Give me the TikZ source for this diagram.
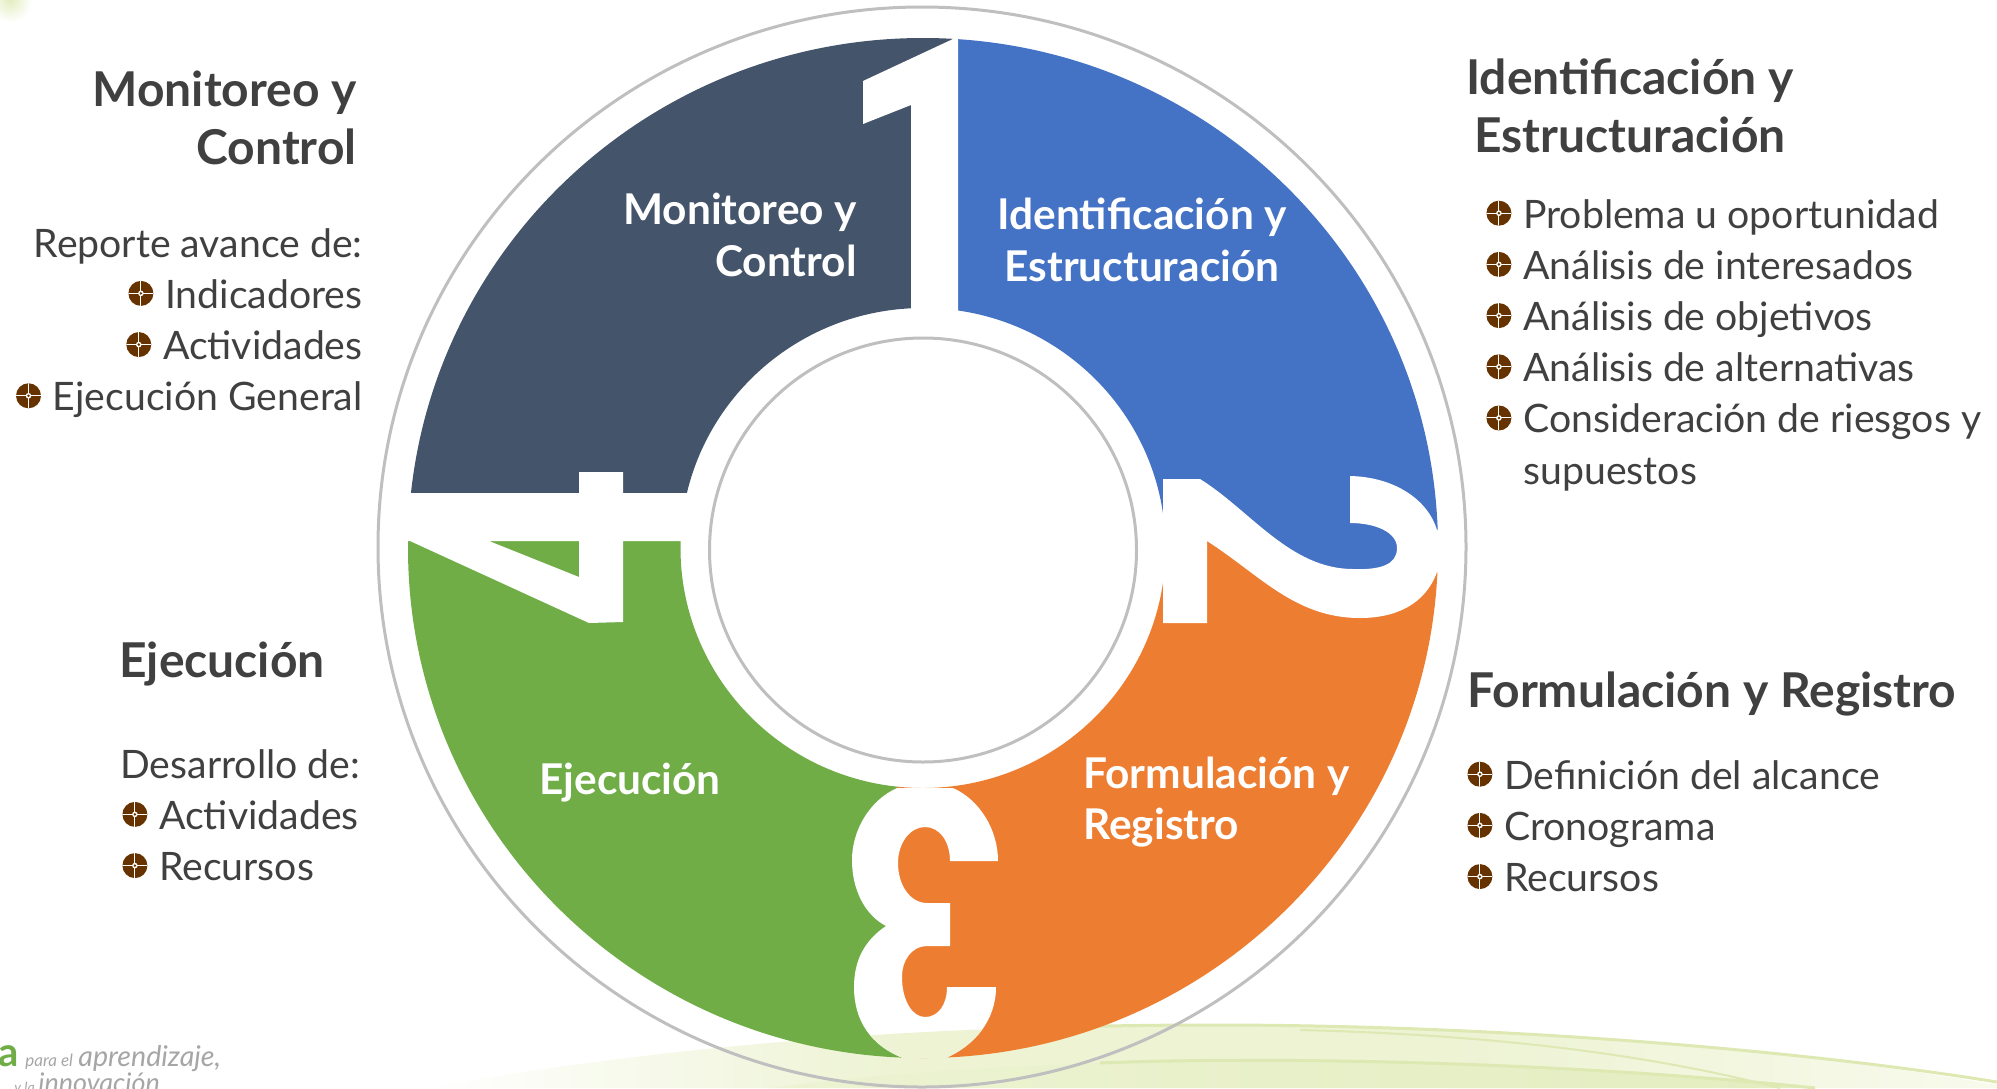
\documentclass[tikz,border=0pt]{standalone}
\usepackage{fontspec}
\setmainfont{Lato}
\definecolor{CD}{HTML}{44546A}
\definecolor{CB}{HTML}{4472C4}
\definecolor{CO}{HTML}{ED7D31}
\definecolor{CG}{HTML}{70AD47}
\definecolor{CT}{HTML}{404040}
\definecolor{CM}{HTML}{663300}
\definecolor{CL}{HTML}{BFBFBF}
\definecolor{SW1}{HTML}{EDF3D3}
\definecolor{SW2}{HTML}{E3EDBF}
\definecolor{SW3}{HTML}{DDE8B2}
\definecolor{SW4}{HTML}{F8FAEC}
\tikzset{
  TXT/.style = {text=CT, inner sep=0pt, font=\fontsize{19.6}{25.6}\selectfont},
   HD/.style = {text=CT, inner sep=0pt, font=\fontsize{24}{29}\selectfont\bfseries},
   IN/.style = {text=white, inner sep=0pt, font=\fontsize{21.2}{25.7}\selectfont\bfseries},
   LG/.style = {anchor=base west, inner sep=0pt, text=gray!70},
  BUL/.style = {circle, fill=CM, minimum size=12.5pt, inner sep=0pt,
                path picture={\draw[white, line width=.5pt]
                    (path picture bounding box.north) -- (path picture bounding box.south)
                    (path picture bounding box.west) -- (path picture bounding box.east);
                    \fill[white] (path picture bounding box.center) circle (1.4pt);
                    \fill[CM] (path picture bounding box.center) circle (.7pt);}},
}
\newcommand{\Bul}{\tikz[baseline=-.75ex]\node[BUL]{};\hspace{.3em}}
% ring, cut by the clip of each sector
\newcommand{\ringpath}{(923,548) ellipse [x radius=515, y radius=510]
                       (923,548) ellipse [x radius=242.5, y radius=240]}
% digit three is a hole: the background stays visible in it
\newcommand{\threepath}{(897,788) .. controls (870,800) and (852,830) .. (852,860)
   .. controls (852,890) and (865,915) .. (886,926)
   .. controls (865,940) and (854,960) .. (854,987)
   .. controls (854,1020) and (870,1045) .. (903,1058) -- (946,1058)
   .. controls (975,1045) and (996,1020) .. (996,987) -- (947,987)
   .. controls (947,1005) and (938,1017) .. (925,1017)
   .. controls (912,1017) and (902,1000) .. (902,977)
   .. controls (902,960) and (912,946) .. (927,946) -- (950,946) -- (950,903) -- (927,903)
   .. controls (910,903) and (898,885) .. (898,863)
   .. controls (898,843) and (910,827) .. (925,827)
   .. controls (940,827) and (950,842) .. (950,861) -- (998,861)
   .. controls (998,830) and (980,800) .. (953,788) -- cycle}
\newcommand{\swoosh}{%
  \begin{scope}
  \clip (426,1088) .. controls (700,1040) and (950,1025) .. (1214,1025)
    .. controls (1500,1025) and (1800,1050) .. (1997,1085) -- (1997,1088) -- cycle;
  \shade[left color=white, right color=SW1] (426,1000) rectangle (900,1088);
  \fill[SW1] (899,1000) rectangle (1450,1088);
  \shade[left color=SW1, right color=SW4] (1449,1000) rectangle (1997,1088);
  \end{scope}
  \shade[left color=SW1, right color=SW2]
    (770,1088) .. controls (900,1070) and (1100,1060) .. (1300,1060)
    .. controls (1500,1060) and (1700,1075) .. (1815,1088) -- cycle;
  \draw[SW3, line width=1.5pt]
    (1000,1029) .. controls (1080,1026) and (1150,1025) .. (1214,1025)
    .. controls (1500,1025) and (1800,1050) .. (1997,1082);
  \draw[SW3, line width=1.5pt]
    (1100,1063) .. controls (1300,1055) and (1600,1065) .. (1815,1088);
  \draw[SW3, line width=1pt]
    (1300,1030) .. controls (1500,1035) and (1650,1055) .. (1780,1088);
}
\begin{document}
\begin{tikzpicture}[x=.5pt, y=-.5pt]
\clip[use as bounding box] (0,0) rectangle (1997,1088);
\shade[inner color=SW2, outer color=white] (10,0) circle (11pt);
\swoosh
% sectors
\begin{scope}
\clip (0,0) -- (956,0) -- (956,517) -- (0,517) -- cycle;
\fill[CD, even odd rule] \ringpath;
\end{scope}
\begin{scope}
\clip (956,0) -- (1997,0) -- (1997,550) -- (1445,550) -- (1420,560) -- (1355,594)
      -- (1280,560) -- (1207,510) -- (1180,530) -- (956,530) -- cycle;
\fill[CB, even odd rule] \ringpath;
\end{scope}
\begin{scope}
\clip (1997,550) -- (1445,550) -- (1420,560) -- (1355,594) -- (1280,560) -- (1207,510)
      -- (1180,530) -- (897,530) -- (897,1000) -- (903,1088) -- (1997,1088) -- cycle;
\fill[CO, even odd rule] \ringpath;
\end{scope}
\begin{scope}
\clip (0,517) -- (897,517) -- (897,1000) -- (903,1088) -- (0,1088) -- cycle;
\fill[CG, even odd rule] \ringpath;
\end{scope}
% digits
\fill[white] (958,30) -- (958,320) -- (911,320) -- (911,105) -- (863,124) -- (863,81)
             -- (953,39) -- cycle;
\fill[white] (1163,479) -- (1200,479) .. controls (1250,510) and (1290,569) .. (1353,569)
   .. controls (1380,570) and (1397,565) .. (1397,548)
   .. controls (1397,532) and (1375,523) .. (1350,523) -- (1350,476)
   .. controls (1395,477) and (1428,500) .. (1437,530) -- (1445,530) -- (1445,572) -- (1437,572)
   .. controls (1425,605) and (1395,618) .. (1360,618)
   .. controls (1295,618) and (1260,575) .. (1207,541) -- (1207,623) -- (1163,623) -- cycle;
\fill[white] \threepath;
\begin{scope}
\clip \threepath;
\swoosh
\end{scope}
\fill[white, even odd rule] (395,493) -- (579,493) -- (579,472) -- (623,472) -- (623,493)
   -- (690,493) -- (690,541) -- (623,541) -- (623,622) -- (589,623) -- (410,541) -- (395,541) -- cycle
   (489,541) -- (579,577) -- (579,541) -- cycle;
% rings
\draw[CL, line width=1.5pt] (922,547) ellipse [x radius=544, y radius=540];
\draw[CL, line width=1.5pt] (923,550) ellipse [x radius=213.5, y radius=212];
% labels on the ring
\node (in1) [IN, align=right, anchor=east] at (857,235) {Monitoreo y\\Control};
\node (in2) [IN, align=center] at (1142,240) {Identificación y\\Estructuración};
\node (in3) [IN, align=left, anchor=west] at (1083,802) {Formulación y\\Registro};
\node (in4) [IN] at (630,783) {Ejecución};
% left side
\node (h1) [HD, align=right, anchor=east] at (357,118) {Monitoreo y\\Control};
\node (l1) [TXT, align=right, anchor=east] at (363,323)
   {Reporte avance de:\\ \Bul Indicadores\\ \Bul Actividades\\ \Bul Ejecución General};
\node (h4) [HD] at (222,664) {Ejecución};
\node (l4) [TXT, align=left, anchor=west] at (122,815)
   {\hspace*{-1pt}Desarrollo de:\\ \Bul Actividades\\ \Bul Recursos};
% right side
\node (h2) [HD, align=center] at (1630,106) {Identificación y\\Estructuración};
\node (l2) [TXT, align=left, anchor=west] at (1486,345)
   {\Bul Problema u oportunidad\\ \Bul Análisis de interesados\\ \Bul Análisis de objetivos\\
    \Bul Análisis de alternativas\\ \Bul Consideración de riesgos y\\ \hspace*{18.5pt}supuestos};
\node (h3) [HD, anchor=west] at (1467,694) {Formulación y Registro};
\node (l3) [TXT, align=left, anchor=west] at (1467,826)
   {\Bul Definición del alcance\\ \Bul Cronograma\\ \Bul Recursos};
% logo
\node (lg0) [LG, text=CG, font=\fontsize{20}{20}\selectfont\bfseries] at (-2,1066) {a};
\node (lg1) [LG, font=\fontsize{8.5}{9}\selectfont\itshape] at (25,1066) {para el};
\node (lg2) [LG, font=\fontsize{14.3}{15}\selectfont\itshape] at (78,1066) {aprendizaje,};
\node (lg3) [LG, font=\fontsize{7}{7}\selectfont\itshape] at (14,1092) {y la};
\node (lg4) [LG, font=\fontsize{13.5}{15}\selectfont\itshape] at (38,1092) {innovación};
\end{tikzpicture}
\end{document}
